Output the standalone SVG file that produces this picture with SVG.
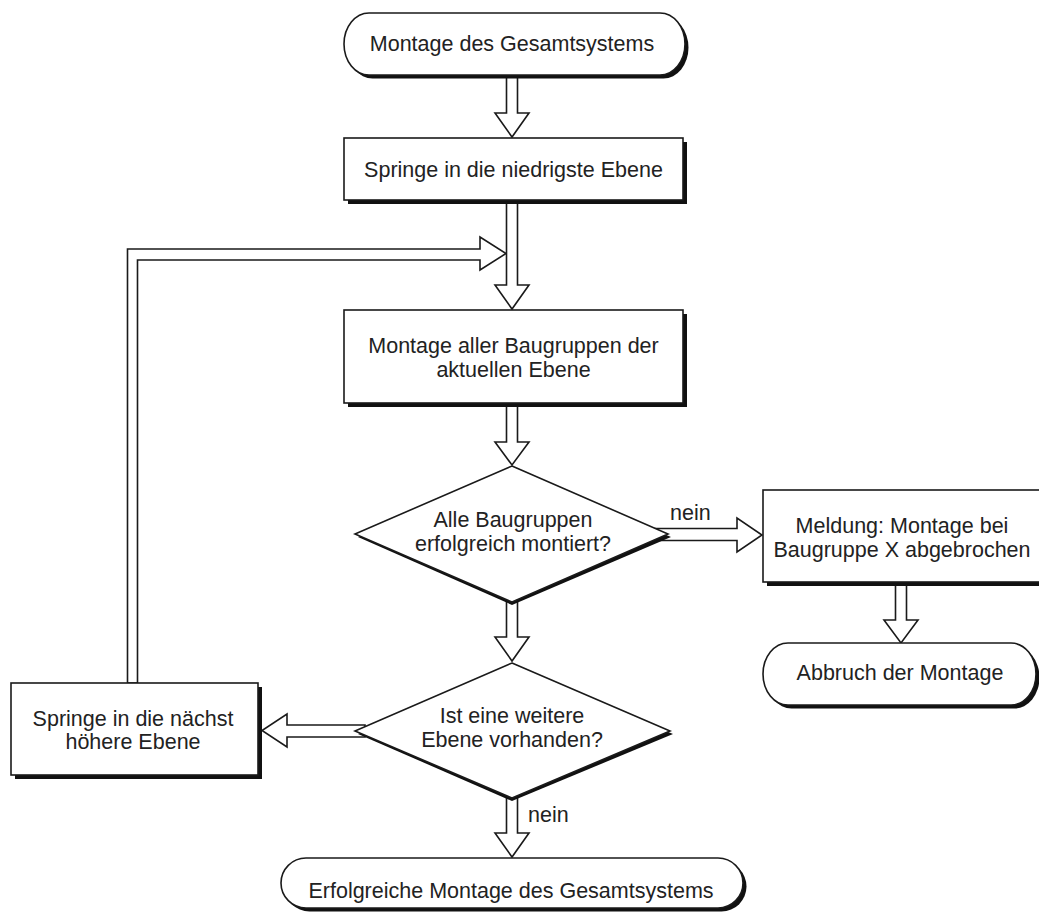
<svg xmlns="http://www.w3.org/2000/svg" width="1039" height="917" viewBox="0 0 1039 917">
<style>
.bg{fill:#fff}
.sh{fill:#111;stroke:none}
.nd{fill:#fff;stroke:#1a1a1a;stroke-width:1.6}
.ar{fill:#fff;stroke:#1a1a1a;stroke-width:1.6;stroke-linejoin:miter}
text{font-family:"Liberation Sans",Arial,sans-serif;font-size:21.5px;fill:#222;text-anchor:middle}
.lbl{text-anchor:start}
</style>
<rect class="bg" x="0" y="0" width="1039" height="917"/>
<g id="connectors">
<polygon class="ar" points="506.5,75 517.5,75 517.5,113 529,113 512,137 495,113 506.5,113"/>
<polygon class="ar" points="127.5,683 127.5,249 480,249 480,237 506,253.5 480,270 480,260 137.5,260 137.5,683"/>
<polygon class="ar" points="506.5,200 517.5,200 517.5,285 529,285 512,309 495,285 506.5,285"/>
<polygon class="ar" points="506.5,403 517.5,403 517.5,442 529,442 512,465 495,442 506.5,442"/>
<polygon class="ar" points="506.5,600 517.5,600 517.5,637 529,637 512,661 495,637 506.5,637"/>
<polygon class="ar" points="506.5,796 517.5,796 517.5,833 529,833 512,857 495,833 506.5,833"/>
<polygon class="ar" points="655,528.5 737,528.5 737,518 762,535 737,552 737,540.5 655,540.5"/>
<polygon class="ar" points="895.5,582 906.5,582 906.5,620 918,620 901,643 884,620 895.5,620"/>
<polygon class="ar" points="365,725 287,725 287,714 262,730.5 287,747 287,737 365,737"/>
<text class="lbl" x="670" y="520">nein</text>
<text class="lbl" x="528" y="822">nein</text>
</g>
<g id="start">
<rect class="sh" x="347.5" y="16.5" width="341" height="62" rx="25" ry="31"/>
<rect class="nd" x="344" y="13" width="341" height="62" rx="25" ry="31"/>
<text x="512" y="51">Montage des Gesamtsystems</text>
</g>
<g id="lowest">
<rect class="sh" x="348" y="142" width="339" height="62"/>
<rect class="nd" x="344" y="138" width="339" height="62"/>
<text x="513.5" y="177">Springe in die niedrigste Ebene</text>
</g>
<g id="assemble">
<rect class="sh" x="348" y="314" width="339" height="93"/>
<rect class="nd" x="344" y="310" width="339" height="93"/>
<text x="513.5" y="353">Montage aller Baugruppen der</text>
<text x="513.5" y="377">aktuellen Ebene</text>
</g>
<g id="check1">
<polygon class="sh" points="512,469 671,537 512,605 358,537"/>
<polygon class="nd" points="512,466 668,534 512,602 355,534"/>
<text x="513" y="527">Alle Baugruppen</text>
<text x="513" y="551">erfolgreich montiert?</text>
</g>
<g id="message">
<rect class="sh" x="767" y="494" width="290" height="92"/>
<rect class="nd" x="763" y="490" width="290" height="92"/>
<text x="902" y="533">Meldung: Montage bei</text>
<text x="902" y="557">Baugruppe X abgebrochen</text>
</g>
<g id="abort">
<rect class="sh" x="766.5" y="646.5" width="273" height="62" rx="25" ry="31"/>
<rect class="nd" x="763" y="643" width="273" height="62" rx="25" ry="31"/>
<text x="900" y="680">Abbruch der Montage</text>
</g>
<g id="check2">
<polygon class="sh" points="512,666 673,734 512,801 358,734"/>
<polygon class="nd" points="512,663 670,731 512,798 355,731"/>
<text x="512" y="723">Ist eine weitere</text>
<text x="512" y="747">Ebene vorhanden?</text>
</g>
<g id="next">
<rect class="sh" x="15" y="687" width="247" height="92"/>
<rect class="nd" x="11" y="683" width="247" height="92"/>
<text x="133" y="726">Springe in die nächst</text>
<text x="133" y="749">höhere Ebene</text>
</g>
<g id="end">
<rect class="sh" x="284.5" y="861.5" width="462" height="50" rx="25" ry="25"/>
<rect class="nd" x="281" y="858" width="462" height="50" rx="25" ry="25"/>
<text x="511" y="898">Erfolgreiche Montage des Gesamtsystems</text>
</g>
</svg>
